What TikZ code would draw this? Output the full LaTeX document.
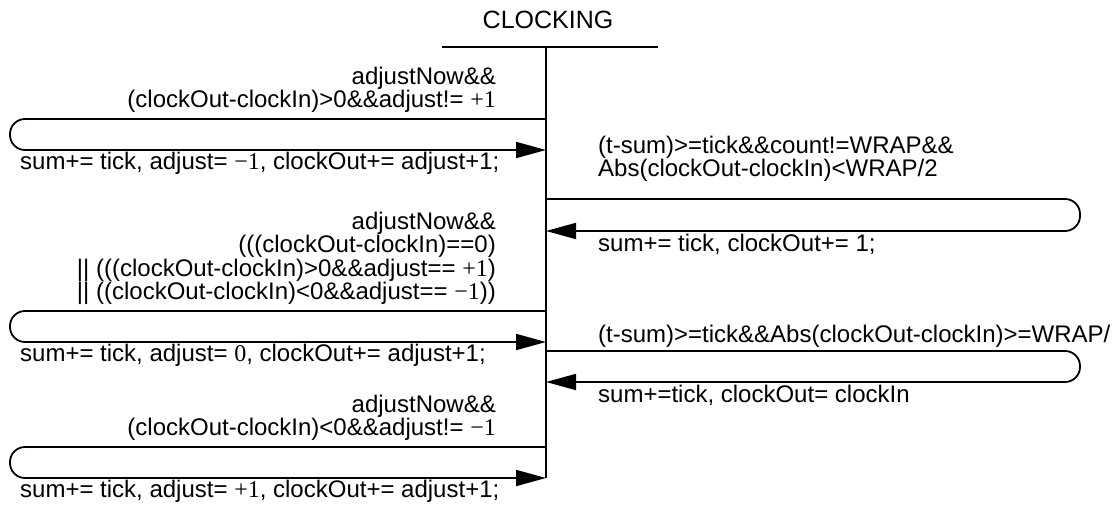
\documentclass[tikz,border=0pt]{standalone}
\usepackage{fontspec}
\setmainfont{Liberation Sans}
\newfontfamily\tmfont{Liberation Serif}
\newcommand\tms[1]{{\tmfont #1}}
\usetikzlibrary{arrows.meta}
\tikzset{
  txt/.style={inner sep=0pt, font=\fontsize{24}{22}\selectfont},
  ln/.style={line width=1.8pt},
  loopline/.style={line width=1.8pt, rounded corners=15pt, -{Triangle[length=30pt,width=16pt]}},
}
\begin{document}
\begin{tikzpicture}[x=1pt,y=-1pt]
\useasboundingbox (0,0) rectangle (1118,508);
% title and lifeline
\node[txt, font=\fontsize{25}{25}\selectfont, anchor=base] (title) at (548,29) {CLOCKING};
\coordinate (hl) at (442,47);
\coordinate (hr) at (658,47);
\coordinate (lt) at (546,47);
\coordinate (lb) at (546,478);
\draw[ln] (hl) -- (hr);
\draw[ln] (lt) -- (lb);

% left loop 1
\coordinate (a1) at (546,119);
\coordinate (a1w) at (10,119);
\coordinate (b1w) at (10,150);
\coordinate (b1) at (546,150);
\draw[loopline] (a1) -- (a1w) -- (b1w) -- (b1);
\node[txt, anchor=south east, align=right] (g1) at (496,113) {adjustNow\&\&\\(clockOut-clockIn)>0\&\&adjust!= \tms{+1}};
\node[txt, anchor=north west] (e1) at (20,152) {sum+= tick, adjust= \tms{−1}, clockOut+= adjust+1;};

% right loop 1
\coordinate (c1) at (546,199);
\coordinate (c1e) at (1080,199);
\coordinate (d1e) at (1080,231);
\coordinate (d1) at (546,231);
\draw[loopline] (c1) -- (c1e) -- (d1e) -- (d1);
\node[txt, anchor=south west, align=left] (g2) at (598,182) {(t-sum)>=tick\&\&count!=WRAP\&\&\\Abs(clockOut-clockIn)<WRAP/2};
\node[txt, anchor=north west] (e2) at (598,234) {sum+= tick, clockOut+= 1;};

% left loop 2
\coordinate (a2) at (546,311);
\coordinate (a2w) at (10,311);
\coordinate (b2w) at (10,342);
\coordinate (b2) at (546,342);
\draw[loopline] (a2) -- (a2w) -- (b2w) -- (b2);
\node[txt, anchor=south east, align=right] (g3) at (496,305) {adjustNow\&\&\\(((clockOut-clockIn)==0)\\|| (((clockOut-clockIn)>0\&\&adjust== \tms{+1})\\|| ((clockOut-clockIn)<0\&\&adjust== \tms{−1}))};
\node[txt, anchor=north west] (e3) at (20,344) {sum+= tick, adjust= \tms{0}, clockOut+= adjust+1;};

% right loop 2
\coordinate (c2) at (546,351);
\coordinate (c2e) at (1080,351);
\coordinate (d2e) at (1080,382);
\coordinate (d2) at (546,382);
\draw[loopline] (c2) -- (c2e) -- (d2e) -- (d2);
\node[txt, anchor=south west] (g4) at (598,348) {(t-sum)>=tick\&\&Abs(clockOut-clockIn)>=WRAP/};
\node[txt, anchor=north west] (e4) at (598,385) {sum+=tick, clockOut= clockIn};

% left loop 3
\coordinate (a3) at (546,447);
\coordinate (a3w) at (10,447);
\coordinate (b3w) at (10,478);
\coordinate (b3) at (546,478);
\draw[loopline] (a3) -- (a3w) -- (b3w) -- (b3);
\node[txt, anchor=south east, align=right] (g5) at (496,441) {adjustNow\&\&\\(clockOut-clockIn)<0\&\&adjust!= \tms{−1}};
\node[txt, anchor=north west] (e5) at (20,480) {sum+= tick, adjust= \tms{+1}, clockOut+= adjust+1;};
\end{tikzpicture}
\end{document}
